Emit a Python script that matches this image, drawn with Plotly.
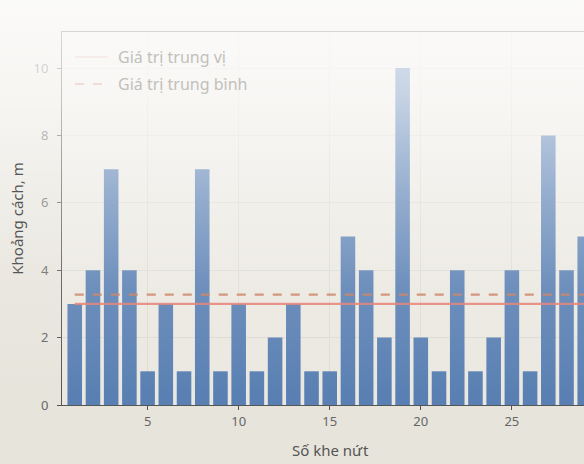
import base64
import plotly.graph_objects as go

# Khoảng cách giữa các khe nứt (m)
khe = list(range(1, 30))
khoang_cach = [3, 4, 7, 4, 1, 3, 1, 7, 1, 3, 1, 2, 3, 1, 1, 5, 4, 2, 10, 2,
               1, 4, 1, 2, 4, 1, 8, 4, 5]
x_ticks = [5, 10, 15, 20, 25]
y_ticks = [0, 2, 4, 6, 8, 10]
legend_labels = ["Giá trị trung vị", "Giá trị trung bình"]

sorted_vals = sorted(khoang_cach)
n = len(sorted_vals)
trung_vi = (sorted_vals[n // 2] if n % 2 else
            (sorted_vals[n // 2 - 1] + sorted_vals[n // 2]) / 2)
trung_binh = sum(khoang_cach) / n

W, H = 584, 464
L, R, T, B = 62, 0, 32, 59
PW, PH = W - L - R, H - T - B
FONT = "Noto Sans"


def px_x(p):
    return (p - L) / PW


def px_y(p):
    return (H - B - p) / PH


fig = go.Figure()
fig.add_trace(go.Bar(
    x=khe, y=khoang_cach, width=0.8,
    marker=dict(color="#5a80b3", line=dict(width=0)),
    showlegend=False,
))
x_line = [min(khe), max(khe) + 0.5]
fig.add_trace(go.Scatter(
    x=x_line, y=[trung_vi, trung_vi], mode="lines",
    line=dict(color="#e5786b", width=2.2), opacity=0.85,
    name=legend_labels[0], showlegend=False,
))
fig.add_trace(go.Scatter(
    x=x_line, y=[trung_binh, trung_binh], mode="lines",
    line=dict(color="#c77a5c", width=2.2, dash="dash"), opacity=0.85,
    name=legend_labels[1], showlegend=False,
))

# chú thích (vẽ tay, màu nhạt)
legend_rows = [(57, "#f6ece9", "solid"), (84, "#efdcd6", "dash")]
shapes = []
annotations = []
for (py, col, dash), label in zip(legend_rows, legend_labels):
    shapes.append(dict(type="line", xref="paper", yref="paper",
                       x0=px_x(75), x1=px_x(108), y0=px_y(py), y1=px_y(py),
                       line=dict(color=col, width=2, dash=dash)))
    annotations.append(dict(text=label, xref="paper", yref="paper",
                            x=px_x(116), y=px_y(py), xanchor="left",
                            yanchor="middle", showarrow=False,
                            font=dict(family=FONT, size=16, color="#c2c0bb")))

annotations.append(dict(text="Số khe nứt", xref="paper", yref="paper",
                        x=px_x(330), y=px_y(450),
                        xanchor="center", yanchor="middle", showarrow=False,
                        font=dict(family=FONT, size=15, color="#555")))

# lớp sáng phía trên (ánh sáng mờ)
svg = f'''<svg xmlns="http://www.w3.org/2000/svg" width="{W}" height="{H}">
<defs><linearGradient id="g" x1="0" y1="0" x2="0" y2="1">
<stop offset="0" stop-color="#ffffff" stop-opacity="0.82"/>
<stop offset="0.2" stop-color="#ffffff" stop-opacity="0.66"/>
<stop offset="0.42" stop-color="#ffffff" stop-opacity="0.36"/>
<stop offset="0.62" stop-color="#ffffff" stop-opacity="0.12"/>
<stop offset="0.85" stop-color="#ffffff" stop-opacity="0"/>
</linearGradient></defs>
<rect width="{W}" height="{H}" fill="url(#g)"/></svg>'''
uri = "data:image/svg+xml;base64," + base64.b64encode(svg.encode()).decode()

fig.update_layout(
    width=W, height=H,
    margin=dict(l=L, r=R, t=T, b=B),
    paper_bgcolor="#e7e4dc",
    plot_bgcolor="#ebe8e1",
    font=dict(family=FONT, color="#666666", size=13),
    bargap=0.2,
    showlegend=False,
    xaxis=dict(
        range=[0.3, 28.96], tickvals=x_ticks, ticks="outside", ticklen=4,
        tickcolor="#555", showgrid=True, gridcolor="#dedbd3", zeroline=False,
        showline=True, linecolor="#555", linewidth=1, mirror=True,
    ),
    yaxis=dict(
        range=[0, 11.07], tickvals=y_ticks, ticks="outside", ticklen=4,
        tickcolor="#555", showgrid=True, gridcolor="#dedbd3", zeroline=False,
        showline=True, linecolor="#555", linewidth=1, mirror=True,
        ticklabelstandoff=6,
        title=dict(text="Khoảng cách, m", font=dict(size=15, color="#555"),
                   standoff=6),
    ),
    shapes=shapes,
    images=[dict(source=uri, xref="paper", yref="paper",
                 x=-L / PW, y=1 + T / PH, sizex=W / PW, sizey=H / PH,
                 xanchor="left", yanchor="top", sizing="stretch",
                 layer="above")],
    annotations=annotations,
)

fig.write_html("out.html")
